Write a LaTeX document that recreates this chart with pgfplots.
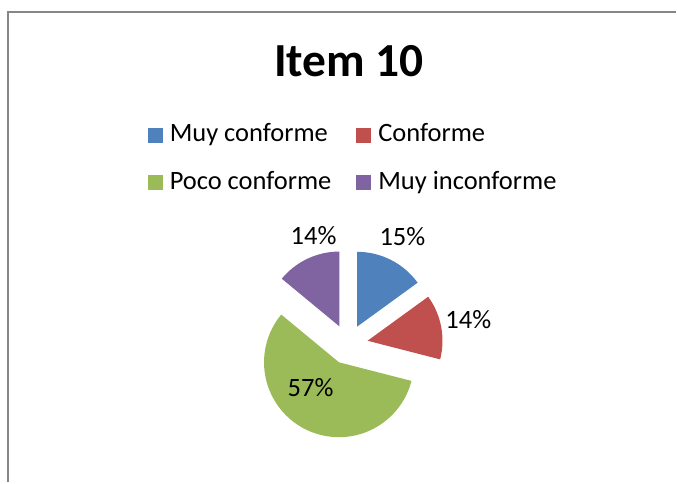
\documentclass[border=0pt]{standalone}
\usepackage{fontspec}
\setmainfont{Carlito}
\usepackage{pgfplots}
\usepackage{pgfplotstable}
\pgfplotsset{compat=1.18}

\definecolor{c0}{HTML}{4F81BD}
\definecolor{c1}{HTML}{C0504D}
\definecolor{c2}{HTML}{9BBB59}
\definecolor{c3}{HTML}{8064A2}
\definecolor{framegray}{HTML}{868686}

% share in percent, clockwise from 12 o'clock; lx/ly = label spot (px)
\pgfplotstableread{
label value lx ly
{Muy conforme} 15 403 246
Conforme 14 469 329
{Poco conforme} 57 311 397
{Muy inconforme} 14 314 245
}\piedata

% slice angles
\def\pieCum{0}%
\pgfplotsforeachungrouped \i in {0,1,2,3}{%
  \pgfplotstablegetelem{\i}{value}\of\piedata
  \let\pieVal\pgfplotsretval
  \pgfmathsetmacro\pieA{90-3.6*\pieCum}%
  \pgfmathsetmacro\pieB{90-3.6*(\pieCum+\pieVal)}%
  \pgfmathsetmacro\pieM{(\pieA+\pieB)/2}%
  \expandafter\xdef\csname sa\i\endcsname{\pieA}%
  \expandafter\xdef\csname sb\i\endcsname{\pieB}%
  \expandafter\xdef\csname sm\i\endcsname{\pieM}%
  \expandafter\xdef\csname sv\i\endcsname{\pieVal}%
  \pgfmathsetmacro\pieCum{\pieCum+\pieVal}%
  \pgfplotstablegetelem{\i}{lx}\of\piedata
  \expandafter\xdef\csname lx\i\endcsname{\pgfplotsretval}%
  \pgfplotstablegetelem{\i}{ly}\of\piedata
  \expandafter\xdef\csname ly\i\endcsname{\pgfplotsretval}%
  \pgfplotstablegetelem{\i}{label}\of\piedata
  \expandafter\xdef\csname lab\i\endcsname{\pgfplotsretval}%
}

\pgfplotsset{
  sq/.style={legend image code/.code={\fill[##1] (0pt,-7.5pt) rectangle (15pt,7.5pt);}},
}

\begin{document}
\begin{tikzpicture}
\begin{axis}[
    scale only axis,
    width=677pt, height=483pt,
    xmin=0, xmax=677, ymin=0, ymax=483,
    y dir=reverse,
    hide axis,
    clip=false,
    legend columns=2,
    legend cell align=left,
    legend style={
      at={(axis cs:148,124.5)}, anchor=north west,
      draw=none, fill=none, inner sep=0pt, outer sep=0pt,
      font=\fontsize{26.5}{31}\selectfont,
      nodes={inner sep=0pt, text height=17.5pt, text depth=4pt},
      column sep=7pt, row sep=26.5pt,
      /tikz/every even column/.append style={column sep=25pt},
    },
  ]
  \path (axis cs:0,0) rectangle (axis cs:677,483);
  \draw[framegray, line width=2pt] (axis cs:8.3,483) -- (axis cs:8.3,11.8) -- (axis cs:677,11.8);

  \node[anchor=base, font=\fontsize{47.5}{56}\selectfont\bfseries] at (axis cs:349.5,77) {Item 10};

  \pgfplotsinvokeforeach{0,1,2,3}{
    \addlegendimage{sq, fill=c#1, draw=none}
    \addlegendentry{\csname lab#1\endcsname}
    \fill[c#1] (axis cs:348.5,345) ++(\csname sm#1\endcsname:20pt)
      -- ++(\csname sa#1\endcsname:75pt)
      arc[start angle=\csname sa#1\endcsname, end angle=\csname sb#1\endcsname, radius=75pt]
      -- cycle;
    \node[anchor=base, font=\fontsize{26.5}{31}\selectfont]
      at (axis cs:\csname lx#1\endcsname,\csname ly#1\endcsname) {\csname sv#1\endcsname\%};
  }
\end{axis}
\end{tikzpicture}
\end{document}
